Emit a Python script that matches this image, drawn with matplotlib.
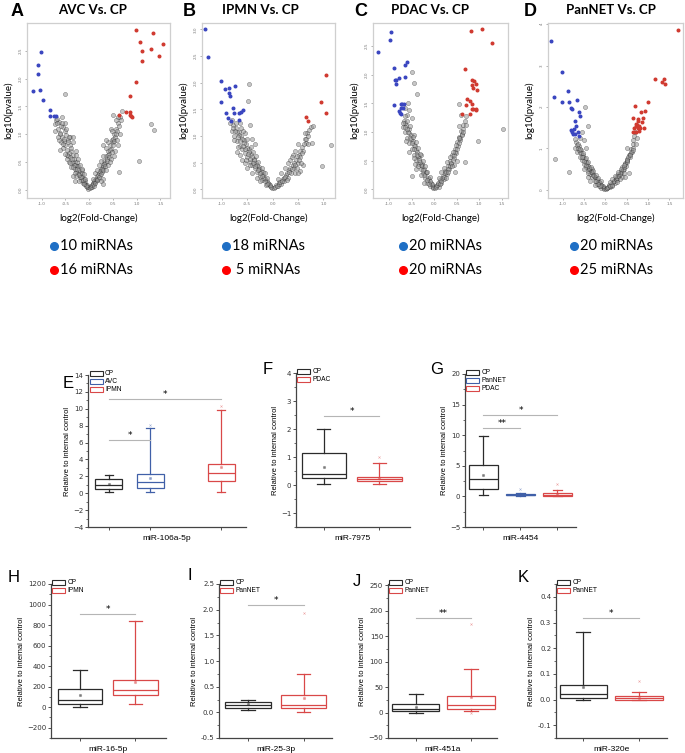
import matplotlib
matplotlib.use("Agg")
import matplotlib.pyplot as plt
from matplotlib.patches import Patch
from matplotlib.lines import Line2D
from matplotlib.ticker import AutoMinorLocator

W, H = 685, 753
fig = plt.figure(figsize=(6.85, 7.53), dpi=100)

# ---------------- volcano data ----------------
# A: AVC vs CP
a_blue_x = [-1.01, -1.08, -1.08, -1.04, -1.19, -0.97, -0.83, -0.82, -0.75, -0.69]
a_blue_y = [2.48, 2.24, 2.09, 1.80, 1.78, 1.61, 1.44, 1.32, 1.33, 1.32]
a_red_x = [0.99, 1.35, 1.07, 1.11, 1.30, 1.56, 1.46, 1.11, 0.99, 0.86, 0.62, 0.78, 0.86, 0.87, 0.89, 0.86]
a_red_y = [2.88, 2.82, 2.66, 2.49, 2.53, 2.62, 2.41, 2.31, 1.94, 1.68, 1.34, 1.40, 1.40, 1.32, 1.31, 1.34]
a_grey_x = [-0.02, -0.04, -0.06, -0.08, -0.1, -0.12, -0.13, -0.15, -0.17, -0.19, -0.2, -0.22, -0.24, -0.25,
            -0.27, -0.29, -0.3, -0.32, -0.33, -0.35, -0.36, -0.38, -0.4, -0.41, -0.43, -0.45, -0.46, -0.48,
            -0.5, -0.52, -0.54, -0.55, -0.57, -0.6, -0.62, -0.64, -0.66, -0.7, -0.72, -0.45, -0.38, -0.3,
            -0.22, -0.55, -0.5, -0.6, -0.68, -0.51,
            -0.03, -0.05, -0.07, -0.09, -0.11, -0.14, -0.16, -0.18, -0.21, -0.23, -0.26, -0.28, -0.31, -0.34,
            -0.37, -0.39, -0.42, -0.44, -0.47, -0.49, -0.53, -0.56, -0.58, -0.61, -0.63, -0.67, -0.4, -0.35,
            -0.25, -0.15,
            -0.08, -0.12, -0.16, -0.2, -0.24, -0.28, -0.3, -0.35, -0.4, -0.42, -0.47, -0.52, -0.58, -0.62,
            -0.66, -0.73, -0.35, -0.28,
            0.02, 0.04, 0.06, 0.08, 0.1, 0.12, 0.14, 0.16, 0.18, 0.2, 0.22, 0.24, 0.26, 0.28, 0.3, 0.32,
            0.34, 0.36, 0.38, 0.4, 0.42, 0.44, 0.46, 0.48, 0.5, 0.52, 0.54, 0.56, 0.58, 0.6, 0.62, 0.64,
            0.66, 0.5, 0.45, 0.35, 0.3, 0.63, 1.04, 1.30, 1.37, 0.68, 0.55,
            0.03, 0.05, 0.07, 0.09, 0.11, 0.13, 0.15, 0.17, 0.19, 0.21, 0.23, 0.25, 0.27, 0.29, 0.31, 0.33,
            0.37, 0.39, 0.41, 0.43, 0.47, 0.49, 0.51, 0.53, 0.57, 0.59, 0.61, 0.45, 0.4, 0.25,
            0.08, 0.12, 0.16, 0.2, 0.24, 0.28, 0.3, 0.36, 0.4, 0.44, 0.48, 0.52, 0.56, 0.6, 0.64, 0.35, 0.28]
a_grey_y = [0.02, 0.05, 0.08, 0.1, 0.13, 0.2, 0.12, 0.25, 0.18, 0.3, 0.22, 0.35, 0.28, 0.42,
            0.33, 0.5, 0.38, 0.55, 0.45, 0.62, 0.5, 0.7, 0.58, 0.8, 0.66, 0.9, 0.72, 0.98,
            0.8, 1.05, 0.88, 1.12, 0.95, 1.15, 1.02, 1.22, 1.1, 1.25, 1.18, 0.6, 0.4, 0.3,
            0.15, 0.75, 1.2, 0.85, 1.28, 1.73,
            0.04, 0.09, 0.06, 0.15, 0.1, 0.17, 0.3, 0.22, 0.27, 0.42, 0.38, 0.25, 0.45, 0.4,
            0.55, 0.75, 0.5, 0.85, 0.62, 1.1, 0.92, 0.82, 1.2, 1.0, 0.9, 1.2, 0.95, 0.85,
            0.5, 0.35,
            0.2, 0.28, 0.38, 0.45, 0.55, 0.62, 0.15, 0.25, 0.48, 0.95, 0.55, 0.65, 1.3, 0.72,
            0.95, 1.05, 0.95, 0.7,
            0.03, 0.06, 0.04, 0.12, 0.1, 0.18, 0.15, 0.24, 0.2, 0.3, 0.26, 0.38, 0.32, 0.45, 0.4, 0.52,
            0.48, 0.6, 0.55, 0.7, 0.65, 0.8, 0.74, 0.9, 0.85, 1.0, 0.95, 1.1, 1.05, 1.2, 1.15, 1.3,
            1.25, 1.35, 1.1, 0.75, 0.2, 0.31, 0.52, 1.19, 1.08, 1.42, 0.7,
            0.05, 0.08, 0.1, 0.07, 0.15, 0.12, 0.2, 0.17, 0.26, 0.22, 0.33, 0.28, 0.38, 0.35, 0.46, 0.42,
            0.52, 0.62, 0.58, 0.72, 0.68, 0.8, 0.92, 0.88, 1.0, 0.9, 1.3, 0.55, 0.45, 0.15,
            0.2, 0.3, 0.36, 0.45, 0.52, 0.6, 0.1, 0.35, 0.85, 0.5, 1.05, 0.6, 1.25, 0.8, 1.0, 0.9, 0.8]

# B: IPMN vs CP
b_blue_x = [-1.33, -1.27, -1.02, -0.94, -0.86, -0.86, -0.84, -0.74, -1.02, -0.78, -0.92, -0.76, -0.67,
            -0.62, -0.59, -0.88, -0.82, -0.67]
b_blue_y = [3.0, 2.48, 2.04, 1.88, 1.91, 1.81, 1.75, 1.94, 1.63, 1.53, 1.43, 1.44, 1.44, 1.46, 1.49,
            1.34, 1.29, 1.31]
b_red_x = [1.05, 0.95, 1.05, 0.65, 0.70]
b_red_y = [2.14, 1.63, 1.43, 1.36, 1.28]
b_grey_x = [-0.02, -0.05, -0.08, -0.1, -0.12, -0.15, -0.18, -0.2, -0.22, -0.25, -0.27, -0.3, -0.32, -0.35,
            -0.37, -0.4, -0.42, -0.45, -0.47, -0.5, -0.52, -0.55, -0.57, -0.6, -0.62, -0.65, -0.67, -0.7,
            -0.72, -0.75, -0.78, -0.8, -0.84, -0.6, -0.5, -0.4, -0.7, -0.65, -0.55, -0.46, -0.48, -0.45,
            -0.35,
            -0.03, -0.06, -0.09, -0.11, -0.14, -0.17, -0.19, -0.21, -0.24, -0.26, -0.29, -0.31, -0.34, -0.36,
            -0.39, -0.41, -0.44, -0.46, -0.49, -0.51, -0.54, -0.56, -0.59, -0.61, -0.64, -0.66, -0.69, -0.71,
            -0.74, -0.77, -0.45, -0.55, -0.65, -0.3,
            -0.1, -0.15, -0.2, -0.28, -0.33, -0.38, -0.43, -0.5, -0.58, -0.63, -0.72, -0.8, -0.4, -0.25,
            -0.53, -0.68, -0.76,
            0.03, 0.06, 0.1, 0.13, 0.16, 0.2, 0.23, 0.26, 0.3, 0.33, 0.36, 0.4, 0.43, 0.46, 0.5, 0.52,
            0.55, 0.58, 0.6, 0.63, 0.65, 0.68, 0.72, 0.75, 0.5, 0.45, 0.55, 0.6, 1.16, 0.98, 0.77, 0.80, 0.4,
            0.04, 0.08, 0.12, 0.15, 0.18, 0.22, 0.25, 0.28, 0.32, 0.35, 0.38, 0.42, 0.45, 0.48, 0.52, 0.55,
            0.58, 0.62, 0.66, 0.7, 0.35,
            0.1, 0.17, 0.24, 0.3, 0.38, 0.44, 0.5, 0.57, 0.64, 0.7, 0.28, 0.48]
b_grey_y = [0.02, 0.06, 0.1, 0.15, 0.08, 0.2, 0.28, 0.18, 0.35, 0.25, 0.42, 0.32, 0.5, 0.4,
            0.58, 0.45, 0.66, 0.52, 0.75, 0.6, 0.85, 0.68, 0.92, 0.75, 1.0, 0.82, 1.08, 0.9,
            1.15, 1.0, 1.2, 1.1, 1.25, 0.55, 0.4, 0.3, 0.7, 1.25, 1.05, 1.97, 1.66, 1.2,
            0.85,
            0.04, 0.08, 0.12, 0.1, 0.16, 0.22, 0.32, 0.26, 0.3, 0.38, 0.36, 0.46, 0.44, 0.55,
            0.5, 0.6, 0.58, 0.7, 0.66, 0.78, 0.75, 0.88, 0.82, 0.95, 0.9, 1.02, 0.98, 1.08,
            1.1, 1.15, 0.45, 0.5, 0.65, 0.22,
            0.22, 0.3, 0.4, 0.52, 0.62, 0.7, 0.8, 0.95, 1.1, 1.15, 1.25, 1.3, 0.95, 0.15,
            0.55, 0.8, 0.92,
            0.03, 0.08, 0.06, 0.14, 0.1, 0.2, 0.16, 0.28, 0.22, 0.36, 0.3, 0.45, 0.4, 0.55, 0.5, 0.65,
            0.6, 0.8, 0.72, 0.95, 0.88, 1.05, 1.12, 1.18, 0.85, 0.3, 0.35, 0.45, 0.83, 0.44, 0.88, 1.19, 0.65,
            0.05, 0.06, 0.1, 0.14, 0.16, 0.22, 0.24, 0.3, 0.32, 0.4, 0.38, 0.5, 0.45, 0.62, 0.55, 0.72,
            0.68, 0.85, 0.95, 1.0, 0.55,
            0.2, 0.3, 0.4, 0.5, 0.6, 0.72, 0.3, 0.5, 1.05, 0.85, 0.18, 0.4]

# C: PDAC vs CP
c_blue_x = [-0.96, -0.99, -1.24, -0.61, -0.64, -0.89, -0.79, -0.87, -0.84, -0.86, -0.64, -0.90, -0.74,
            -0.71, -0.67, -0.73, -0.69, -0.76, -0.74, -0.79]
c_blue_y = [2.74, 2.60, 2.40, 2.22, 2.17, 2.12, 1.94, 1.90, 1.90, 1.84, 1.96, 1.47, 1.48, 1.48, 1.49,
            1.42, 1.41, 1.34, 1.31, 1.37]
c_red_x = [0.81, 1.07, 1.28, 0.68, 0.84, 0.88, 0.84, 0.93, 0.87, 0.96, 0.73, 0.79, 0.70, 0.84, 0.87,
           0.92, 0.79, 0.62, 0.93, 0.83]
c_red_y = [2.76, 2.79, 2.56, 2.10, 1.91, 1.89, 1.82, 1.84, 1.77, 1.74, 1.58, 1.54, 1.47, 1.48, 1.40,
           1.38, 1.32, 1.32, 1.40, 1.40]
c_grey_x = [-0.02, -0.05, -0.08, -0.1, -0.12, -0.15, -0.18, -0.2, -0.23, -0.25, -0.28, -0.3, -0.33, -0.35,
            -0.38, -0.4, -0.42, -0.45, -0.47, -0.5, -0.52, -0.55, -0.57, -0.6, -0.62, -0.65, -0.68, -0.7,
            -0.6, -0.55, -0.5, -0.45, -0.4, -0.3, -0.5, -0.45, -0.38, -0.50, -0.58, -0.65,
            -0.03, -0.06, -0.09, -0.11, -0.14, -0.17, -0.19, -0.22, -0.24, -0.27, -0.29, -0.32, -0.34, -0.37,
            -0.39, -0.41, -0.44, -0.46, -0.49, -0.51, -0.54, -0.56, -0.59, -0.61, -0.64, -0.66, -0.55, -0.45,
            -0.35,
            -0.1, -0.15, -0.2, -0.26, -0.31, -0.36, -0.41, -0.48, -0.53, -0.6, -0.66, -0.42, -0.3, -0.22,
            -0.7, -0.63,
            0.02, 0.05, 0.08, 0.1, 0.13, 0.16, 0.2, 0.22, 0.25, 0.28, 0.3, 0.33, 0.36, 0.38, 0.4, 0.43,
            0.46, 0.48, 0.5, 0.52, 0.55, 0.57, 0.6, 0.62, 0.65, 0.68, 0.7, 0.55, 0.45, 1.53, 0.98, 0.68,
            0.56, 0.6, 0.5,
            0.03, 0.06, 0.09, 0.12, 0.15, 0.18, 0.21, 0.24, 0.27, 0.31, 0.34, 0.37, 0.41, 0.44, 0.47, 0.51,
            0.54, 0.58, 0.61, 0.64, 0.4, 0.3,
            0.1, 0.16, 0.22, 0.29, 0.35, 0.42, 0.49, 0.56, 0.63, 0.7, 0.26, 0.46]
c_grey_y = [0.02, 0.07, 0.12, 0.06, 0.18, 0.12, 0.28, 0.2, 0.36, 0.28, 0.45, 0.35, 0.55, 0.45,
            0.65, 0.52, 0.75, 0.6, 0.85, 0.7, 0.95, 0.8, 1.05, 0.9, 1.12, 1.0, 1.2, 1.08,
            1.3, 1.38, 1.25, 0.95, 0.35, 0.6, 2.05, 1.85, 1.67, 0.23, 1.5, 1.42,
            0.05, 0.09, 0.14, 0.1, 0.2, 0.16, 0.3, 0.25, 0.34, 0.4, 0.42, 0.48, 0.52, 0.58,
            0.6, 0.68, 0.7, 0.78, 0.8, 0.88, 0.9, 0.98, 1.0, 1.05, 1.08, 1.15, 0.65, 0.55,
            0.4,
            0.22, 0.3, 0.4, 0.5, 0.62, 0.72, 0.82, 0.92, 1.1, 1.2, 1.28, 0.45, 0.25, 0.12,
            1.15, 0.85,
            0.03, 0.06, 0.1, 0.05, 0.16, 0.12, 0.24, 0.18, 0.32, 0.26, 0.4, 0.35, 0.5, 0.44, 0.6, 0.55,
            0.7, 0.64, 0.82, 0.75, 0.92, 0.86, 1.02, 0.96, 1.12, 1.2, 1.28, 1.1, 0.42, 1.05, 0.85, 0.47,
            1.49, 1.3, 0.5,
            0.04, 0.08, 0.12, 0.1, 0.14, 0.2, 0.22, 0.28, 0.3, 0.36, 0.4, 0.46, 0.52, 0.6, 0.66, 0.7,
            0.8, 0.9, 0.95, 1.05, 0.4, 0.3,
            0.2, 0.3, 0.38, 0.48, 0.56, 0.66, 0.78, 0.9, 1.0, 1.12, 0.2, 0.3]

# D: PanNET vs CP
d_blue_x = [-1.26, -1.02, -0.88, -1.21, -1.02, -0.84, -0.67, -0.80, -0.78, -0.62, -0.60, -0.70, -0.80,
            -0.73, -0.75, -0.71, -0.63, -0.62, -0.77, -0.68]
d_blue_y = [3.60, 2.85, 2.39, 2.24, 2.12, 2.13, 2.17, 1.98, 1.95, 1.89, 1.77, 1.65, 1.45, 1.47, 1.35,
            1.35, 1.39, 1.29, 1.39, 1.55]
d_red_x = [1.70, 1.16, 1.38, 1.32, 1.41, 1.00, 0.70, 0.94, 0.83, 0.64, 0.77, 0.89, 0.72, 0.74, 0.79,
           0.71, 0.81, 0.76, 0.91, 0.66, 0.73, 0.80, 0.68, 0.85, 0.77]
d_red_y = [3.87, 2.68, 2.68, 2.61, 2.56, 2.12, 2.02, 1.91, 1.88, 1.73, 1.71, 1.73, 1.60, 1.57, 1.55,
           1.55, 1.50, 1.48, 1.50, 1.40, 1.40, 1.41, 1.49, 1.63, 1.65]
d_grey_x = [-0.02, -0.05, -0.08, -0.1, -0.13, -0.15, -0.18, -0.2, -0.23, -0.25, -0.28, -0.3, -0.33, -0.35,
            -0.38, -0.4, -0.42, -0.45, -0.47, -0.5, -0.52, -0.55, -0.57, -0.6, -0.62, -0.65, -0.68, -0.7,
            -0.6, -0.5, -0.45, -0.55, -0.48, -1.18, -0.84, -0.41, -0.4, -0.3,
            -0.03, -0.06, -0.09, -0.12, -0.14, -0.17, -0.19, -0.22, -0.24, -0.27, -0.29, -0.32, -0.34, -0.37,
            -0.39, -0.41, -0.44, -0.46, -0.49, -0.51, -0.54, -0.56, -0.59, -0.61, -0.64, -0.66, -0.5, -0.4,
            -0.1, -0.16, -0.22, -0.28, -0.34, -0.4, -0.46, -0.52, -0.58, -0.64, -0.7, -0.36, -0.25,
            0.02, 0.05, 0.08, 0.1, 0.13, 0.16, 0.2, 0.22, 0.25, 0.28, 0.3, 0.33, 0.36, 0.38, 0.4, 0.43,
            0.46, 0.48, 0.5, 0.52, 0.55, 0.57, 0.6, 0.62, 0.64, 0.66, 0.68, 0.7, 0.5, 0.4, 0.75, 0.55,
            0.03, 0.06, 0.09, 0.12, 0.15, 0.18, 0.21, 0.24, 0.27, 0.31, 0.34, 0.37, 0.41, 0.44, 0.47, 0.51,
            0.54, 0.58, 0.61, 0.64, 0.45, 0.35,
            0.1, 0.16, 0.23, 0.3, 0.37, 0.44, 0.51, 0.58, 0.65, 0.72, 0.27, 0.47]
d_grey_y = [0.02, 0.06, 0.1, 0.05, 0.16, 0.1, 0.22, 0.15, 0.3, 0.22, 0.38, 0.3, 0.46, 0.38,
            0.55, 0.45, 0.65, 0.55, 0.75, 0.62, 0.85, 0.72, 0.95, 0.8, 1.05, 0.9, 1.15, 1.0,
            1.25, 1.2, 1.0, 1.4, 2.0, 0.74, 0.44, 1.55, 0.3, 0.5,
            0.04, 0.08, 0.12, 0.1, 0.18, 0.15, 0.26, 0.2, 0.3, 0.34, 0.35, 0.42, 0.44, 0.5,
            0.52, 0.58, 0.6, 0.68, 0.7, 0.78, 0.8, 0.88, 0.9, 0.95, 1.0, 1.08, 0.5, 0.4,
            0.2, 0.28, 0.36, 0.46, 0.56, 0.66, 0.76, 0.88, 0.98, 1.1, 1.22, 0.2, 0.12,
            0.02, 0.05, 0.1, 0.06, 0.15, 0.1, 0.22, 0.16, 0.3, 0.24, 0.38, 0.32, 0.46, 0.4, 0.55, 0.5,
            0.65, 0.58, 0.75, 0.7, 0.85, 0.8, 0.98, 0.92, 1.1, 1.2, 1.3, 1.4, 1.0, 0.3, 1.25, 0.4,
            0.04, 0.07, 0.12, 0.1, 0.12, 0.18, 0.2, 0.26, 0.28, 0.34, 0.38, 0.44, 0.48, 0.56, 0.62, 0.66,
            0.78, 0.86, 0.9, 1.02, 0.4, 0.25,
            0.18, 0.26, 0.34, 0.42, 0.5, 0.6, 0.72, 0.84, 0.96, 1.1, 0.18, 0.3]

volcano_titles = ["AVC Vs. CP", "IPMN Vs. CP", "PDAC Vs. CP", "PanNET Vs. CP"]
blue_counts = ["10 miRNAs", "18 miRNAs", "20 miRNAs", "20 miRNAs"]
red_counts = ["16 miRNAs", " 5 miRNAs", "20 miRNAs", "25 miRNAs"]

# ---------------- box plot data (Relative to internal control) ----------------
e_groups = ["CP", "AVC", "IPMN"]
e_q1 = [0.5, 0.6, 1.5]; e_med = [1.0, 1.3, 2.4]; e_q3 = [1.7, 2.3, 3.5]
e_lo = [0.2, 0.1, 0.2]; e_hi = [2.2, 7.7, 9.9]; e_mean = [1.1, 1.8, 3.1]
e_fliers = [[], [8.1], [10.3]]

f_groups = ["CP", "PDAC"]
f_q1 = [0.25, 0.15]; f_med = [0.4, 0.22]; f_q3 = [1.16, 0.3]
f_lo = [0.03, 0.05]; f_hi = [2.0, 0.78]; f_mean = [0.65, 0.25]
f_fliers = [[], [1.0]]

g_groups = ["CP", "PanNET", "PDAC"]
g_q1 = [1.2, 0.15, 0.1]; g_med = [2.9, 0.25, 0.3]; g_q3 = [5.2, 0.4, 0.5]
g_lo = [0.3, 0.05, 0.05]; g_hi = [9.9, 0.6, 1.0]; g_mean = [3.5, 0.3, 0.4]
g_fliers = [[], [1.2], [1.95]]

h_groups = ["CP", "IPMN"]
h_q1 = [33, 122]; h_med = [75, 165]; h_q3 = [180, 262]
h_lo = [0, 33]; h_hi = [360, 843]; h_mean = [115, 242]
h_fliers = [[], []]

i_groups = ["CP", "PanNET"]
i_q1 = [0.085, 0.08]; i_med = [0.14, 0.14]; i_q3 = [0.195, 0.345]
i_lo = [0.04, 0.0]; i_hi = [0.25, 0.74]; i_mean = [0.17, 0.27]
i_fliers = [[], [1.94]]

j_groups = ["CP", "PanNET"]
j_q1 = [2.6, 6.5]; j_med = [7.8, 14.4]; j_q3 = [17.6, 32.7]
j_lo = [0, 3]; j_hi = [37, 86]; j_mean = [10, 30.7]
j_fliers = [[], [174.5, 0]]

k_groups = ["CP", "PanNET"]
k_q1 = [0.0065, 0.0]; k_med = [0.023, 0.004]; k_q3 = [0.056, 0.013]
k_lo = [0.0, 0.0]; k_hi = [0.264, 0.028]; k_mean = [0.05, 0.007]
k_fliers = [[], [0.074]]

BLACK, BLUE, RED = "#2b2b2b", "#4060a8", "#d94848"


def px_ax(l, r, t, b):
    return fig.add_axes([l / W, 1 - b / H, (r - l) / W, (b - t) / H])


def ftext(x, y, s, **kw):
    fig.text(x / W, 1 - y / H, s, **kw)


def volcano(ax, gx, gy, bx, by, rx, ry, xlim, ylim, xticks, yticks, ylabels):
    ax.scatter(gx, gy, s=9, facecolor="#9a9a9a", edgecolor="#1a1a1a", linewidths=0.35, alpha=0.55)
    ax.scatter(bx, by, s=3.5, color="#3a46c0")
    ax.scatter(rx, ry, s=3.5, color="#d03a30")
    ax.set_xlim(*xlim)
    ax.set_ylim(*ylim)
    ax.set_xticks(xticks)
    ax.set_xticklabels(["%.1f" % t for t in xticks])
    ax.set_yticks(yticks)
    ax.set_yticklabels(ylabels, rotation=90, va="center")
    ax.tick_params(labelsize=3, length=1.5, width=0.4, colors="#777777", pad=1.5)
    for s in ax.spines.values():
        s.set_color("#cfcfcf")
        s.set_linewidth(0.9)
    ax.set_xlabel("log2(Fold-Change)", fontsize=7, family="Lato", labelpad=5)
    ax.set_ylabel("log10(pvalue)", fontsize=7, family="Lato", labelpad=4)


vol_boxes = [(27, 170), (202, 335), (373, 508), (548, 683)]
vol_data = [
    (a_grey_x, a_grey_y, a_blue_x, a_blue_y, a_red_x, a_red_y, (-1.31, 1.70), (-0.15, 3.0),
     [-1.0, -0.5, 0.0, 0.5, 1.0, 1.5], [0, 0.5, 1.0, 1.5, 2.0, 2.5]),
    (b_grey_x, b_grey_y, b_blue_x, b_blue_y, b_red_x, b_red_y, (-1.39, 1.23), (-0.16, 3.12),
     [-1.0, -0.5, 0.0, 0.5, 1.0], [0, 0.5, 1.0, 1.5, 2.0, 2.5, 3.0]),
    (c_grey_x, c_grey_y, c_blue_x, c_blue_y, c_red_x, c_red_y, (-1.36, 1.64), (-0.15, 2.9),
     [-1.0, -0.5, 0.0, 0.5, 1.0, 1.5], [0, 0.5, 1.0, 1.5, 2.0, 2.5]),
    (d_grey_x, d_grey_y, d_blue_x, d_blue_y, d_red_x, d_red_y, (-1.34, 1.82), (-0.2, 4.03),
     [-1.0, -0.5, 0.0, 0.5, 1.0, 1.5], [0, 1, 2, 3, 4]),
]
title_x = [93, 260, 430, 611]
letter_x = [17, 189, 361, 530]
dot_x = [54, 226, 403, 574]
for i, ((l, r), d) in enumerate(zip(vol_boxes, vol_data)):
    ax = px_ax(l, r, 23, 198)
    ylabels = ["%d" % t for t in d[9]] if i == 3 else ["%.1f" % t for t in d[9]]
    volcano(ax, *d, ylabels)
    ftext(title_x[i], 10, volcano_titles[i], fontsize=9.5, fontweight="bold", family="Lato",
          ha="center", va="center")
    ftext(letter_x[i], 11, "ABCD"[i], fontsize=13, fontweight="bold", family="Liberation Sans",
          ha="center", va="center")
    for yy, col, txt in [(246, "#1f6fc5", blue_counts[i]), (270, "#ff0000", red_counts[i])]:
        fig.add_artist(Line2D([dot_x[i] / W], [1 - yy / H], marker="o", markersize=5.5,
                              color=col, transform=fig.transFigure))
        ftext(dot_x[i] + 6, yy, txt, fontsize=10.5, family="Lato", ha="left", va="center")


def boxpanel(ax, groups, colors, q1, med, q3, lo, hi, mean, fliers, pos, width, xlim, ylim,
             yticks, xlabel, sigs):
    for k, g in enumerate(groups):
        c = colors[k]
        st = [dict(med=med[k], q1=q1[k], q3=q3[k], whislo=lo[k], whishi=hi[k],
                   mean=mean[k], fliers=fliers[k])]
        ax.bxp(st, positions=[pos[k]], widths=width, showmeans=True, patch_artist=True,
               boxprops=dict(facecolor="white", edgecolor=c, linewidth=0.9),
               medianprops=dict(color=c, linewidth=0.9),
               whiskerprops=dict(color=c, linewidth=0.9),
               capprops=dict(color=c, linewidth=0.9), capwidths=width * 0.3,
               meanprops=dict(marker="s", markersize=1.2, markerfacecolor=c, markeredgecolor=c,
                              alpha=0.4),
               flierprops=dict(marker="x", markersize=1.5, markeredgecolor=c, alpha=0.5,
                               markeredgewidth=0.4))
    ax.set_xlim(*xlim)
    ax.set_ylim(*ylim)
    ax.set_yticks(yticks)
    ax.yaxis.set_minor_locator(AutoMinorLocator(2))
    ax.set_xticks(pos)
    ax.set_xticklabels([""] * len(pos))
    for s in ["top", "right"]:
        ax.spines[s].set_visible(False)
    for s in ["left", "bottom"]:
        ax.spines[s].set_color("#444444")
        ax.spines[s].set_linewidth(0.9)
    ax.tick_params(axis="both", which="major", labelsize=5, length=2.5, width=0.6, pad=1,
                   colors="#333333")
    ax.tick_params(axis="y", which="minor", length=1.5, width=0.5, colors="#333333")
    ax.set_xlabel(xlabel, fontsize=6, labelpad=2, family="Liberation Sans")
    ax.set_ylabel("Relative to internal control", fontsize=5.5, labelpad=1.5,
                  family="Liberation Sans")
    for x1, x2, y, star in sigs:
        ax.plot([x1, x2], [y, y], color="#b5b5b5", linewidth=0.8)
        ax.text((x1 + x2) / 2, y, star, ha="center", va="bottom", fontsize=6.5)
    handles = [Patch(facecolor="white", edgecolor=c, linewidth=0.8) for c in colors]
    ax.legend(handles, groups, loc="upper left", bbox_to_anchor=(0.01, 1.03), frameon=False,
              handlelength=2.0, handleheight=0.8, handletextpad=0.3,
              labelspacing=0.15, borderaxespad=0, borderpad=0,
              prop=dict(family="Liberation Sans", size=4.8))


ax = px_ax(88, 246, 375, 527)
boxpanel(ax, e_groups, [BLACK, BLUE, RED], e_q1, e_med, e_q3, e_lo, e_hi, e_mean, e_fliers,
         [1.0, 2.0, 3.7], 0.65, (0.5, 4.3), (-4, 14), list(range(-4, 15, 2)), "miR-106a-5p",
         [(1.0, 2.0, 6.3, "*"), (1.0, 3.7, 11.1, "*")])

ax = px_ax(296, 410, 373, 527)
boxpanel(ax, f_groups, [BLACK, RED], f_q1, f_med, f_q3, f_lo, f_hi, f_mean, f_fliers, [1, 2], 0.8,
         (0.5, 2.55), (-1.5, 4), [-1, 0, 1, 2, 3, 4], "miR-7975", [(1, 2, 2.47, "*")])

ax = px_ax(465, 576, 374, 527)
boxpanel(ax, g_groups, [BLACK, BLUE, RED], g_q1, g_med, g_q3, g_lo, g_hi, g_mean, g_fliers,
         [1, 2, 3], 0.78, (0.5, 3.5), (-5, 20), [-5, 0, 5, 10, 15, 20], "miR-4454",
         [(1, 2, 11.2, "**"), (1, 3, 13.3, "*")])

ax = px_ax(51, 166, 584, 738)
boxpanel(ax, h_groups, [BLACK, RED], h_q1, h_med, h_q3, h_lo, h_hi, h_mean, h_fliers, [1, 2], 0.8,
         (0.48, 2.55), (-300, 1200), list(range(-200, 1201, 200)), "miR-16-5p",
         [(1, 2, 908, "*")])

ax = px_ax(219, 332, 584, 738)
boxpanel(ax, i_groups, [BLACK, RED], i_q1, i_med, i_q3, i_lo, i_hi, i_mean, i_fliers, [1, 2], 0.82,
         (0.48, 2.51), (-0.5, 2.5), [-0.5, 0.0, 0.5, 1.0, 1.5, 2.0, 2.5], "miR-25-3p",
         [(1, 2, 2.1, "*")])
ax.set_yticklabels(["%.1f" % t for t in [-0.5, 0.0, 0.5, 1.0, 1.5, 2.0, 2.5]])

ax = px_ax(388, 497, 584, 738)
boxpanel(ax, j_groups, [BLACK, RED], j_q1, j_med, j_q3, j_lo, j_hi, j_mean, j_fliers, [1, 2], 0.86,
         (0.5, 2.47), (-50, 252), list(range(-50, 251, 50)), "miR-451a",
         [(1, 2, 185.6, "**")])

ax = px_ax(556, 667, 584, 738)
boxpanel(ax, k_groups, [BLACK, RED], k_q1, k_med, k_q3, k_lo, k_hi, k_mean, k_fliers, [1, 2], 0.85,
         (0.51, 2.5), (-0.15, 0.45), [-0.1, 0.0, 0.1, 0.2, 0.3, 0.4], "miR-320e",
         [(1, 2, 0.318, "*")])
ax.set_yticklabels(["%.1f" % t for t in [-0.1, 0.0, 0.1, 0.2, 0.3, 0.4]])

for letter, x, y in [("E", 68, 384), ("F", 268, 369), ("G", 437, 370),
                     ("H", 14, 577), ("I", 190, 576), ("J", 357, 582), ("K", 523, 578)]:
    ftext(x, y, letter, fontsize=12, family="Liberation Sans", ha="center", va="center")

fig.savefig("out.png", dpi=100)
